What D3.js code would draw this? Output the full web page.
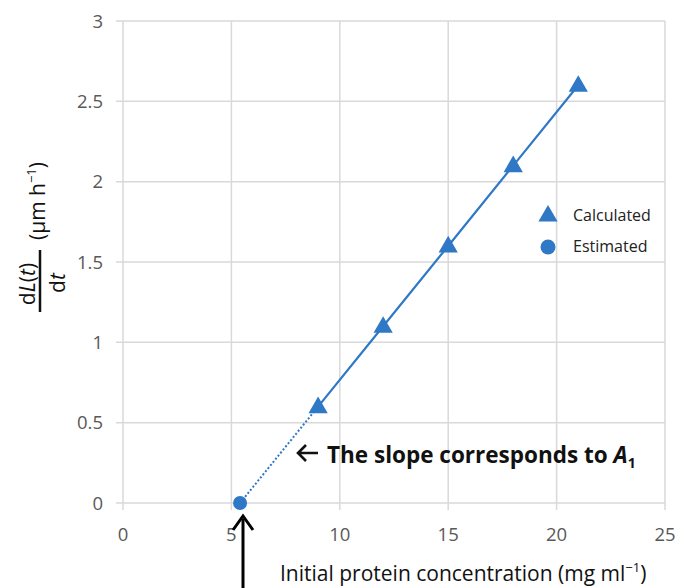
<!DOCTYPE html>
<html><head><meta charset="utf-8">
<script src="https://cdn.jsdelivr.net/npm/d3@7"></script>
<style>body{margin:0;background:#fff;}text{font-family:"Open Sans","Liberation Sans",sans-serif;}</style>
</head><body>
<svg id="c" width="678" height="588"></svg>
<script>
const calcX = [9, 12, 15, 18, 21];
const calcY = [0.6, 1.1, 1.6, 2.1, 2.6];
const estX = [5.4];
const estY = [0];
const xTicks = [0, 5, 10, 15, 20, 25];
const yTicks = [0, 0.5, 1, 1.5, 2, 2.5, 3];
const seriesNames = ["Calculated", "Estimated"];

const svg = d3.select("#c");
const blue = "#2e78c6";
const grid = "#d9d9d9";
const tickCol = "#595959";
const x = d3.scaleLinear().domain([0, 25]).range([123, 665]);
const y = d3.scaleLinear().domain([0, 3]).range([503, 21]);

// gridlines
svg.append("g").selectAll("line").data(xTicks).join("line")
  .attr("x1", d => x(d)).attr("x2", d => x(d)).attr("y1", y(3)).attr("y2", y(0) + 7)
  .attr("stroke", grid).attr("stroke-width", 1.5);
svg.append("g").selectAll("line").data(yTicks).join("line")
  .attr("x1", x(0) - 7).attr("x2", x(25)).attr("y1", d => y(d)).attr("y2", d => y(d))
  .attr("stroke", grid).attr("stroke-width", 1.5);

// tick labels
svg.append("g").selectAll("text").data(yTicks).join("text")
  .attr("x", 103).attr("y", d => y(d) + 6.5).attr("text-anchor", "end")
  .attr("font-size", 18.5).attr("fill", tickCol).text(d => d);
svg.append("g").selectAll("text").data(xTicks).join("text")
  .attr("x", d => x(d)).attr("y", 541).attr("text-anchor", "middle")
  .attr("font-size", 18.5).attr("fill", tickCol).text(d => d);

// lines
const line = d3.line().x(d => x(d[0])).y(d => y(d[1]));
const calcPts = calcX.map((v, i) => [v, calcY[i]]);
svg.append("path").attr("d", line(calcPts)).attr("fill", "none")
  .attr("stroke", blue).attr("stroke-width", 2.2);
svg.append("path").attr("d", line([[estX[0], estY[0]], calcPts[0]])).attr("fill", "none")
  .attr("stroke", blue).attr("stroke-width", 2).attr("stroke-dasharray", "2,2");

// markers
const tri = d3.symbol().type(d3.symbolTriangle).size(160);
svg.append("g").selectAll("path").data(calcPts).join("path")
  .attr("d", tri).attr("transform", d => `translate(${x(d[0])},${y(d[1]) + 1})`).attr("fill", blue);
svg.append("g").selectAll("circle").data(estX).join("circle")
  .attr("cx", d => x(d)).attr("cy", (d, i) => y(estY[i])).attr("r", 7).attr("fill", blue);

// legend
const lg = svg.append("g");
lg.append("path").attr("d", tri).attr("transform", "translate(548,216)").attr("fill", blue);
lg.append("circle").attr("cx", 548).attr("cy", 247).attr("r", 7.5).attr("fill", blue);
lg.selectAll("text").data(seriesNames).join("text")
  .attr("x", 573).attr("y", (d, i) => 221 + i * 31).attr("font-size", 16).attr("fill", "#222").text(d => d);

// annotation
svg.append("path").attr("d", "M318,453 L298,453 M306,445 L298,453 L306,461")
  .attr("fill", "none").attr("stroke", "#111").attr("stroke-width", 2.6);
const ann = svg.append("text").attr("x", 327).attr("y", 463).attr("font-size", 22.5)
  .attr("font-weight", "bold").attr("fill", "#111");
ann.append("tspan").text("The slope corresponds to ");
ann.append("tspan").attr("font-style", "italic").text("A");
ann.append("tspan").attr("font-size", 14).attr("dy", 5).text("1");

// x axis title
const xt = svg.append("text").attr("x", 280).attr("y", 581).attr("font-size", 21).attr("fill", "#111");
xt.append("tspan").text("Initial protein concentration (mg ml");
xt.append("tspan").attr("font-size", 13).attr("dy", -9).text("\u22121");
xt.append("tspan").attr("dy", 9).text(")");

// vertical arrow
svg.append("line").attr("x1", 243).attr("x2", 243).attr("y1", 590).attr("y2", 519)
  .attr("stroke", "#000").attr("stroke-width", 3);
svg.append("path").attr("d", "M233,530 L243,516 L253,530").attr("fill", "none")
  .attr("stroke", "#000").attr("stroke-width", 3);

// y axis title
const yg = svg.append("g");
yg.append("line").attr("x1", 40).attr("x2", 40).attr("y1", 250).attr("y2", 312)
  .attr("stroke", "#111").attr("stroke-width", 2.5);
const num = yg.append("text").attr("transform", "translate(35,284) rotate(-90)")
  .attr("text-anchor", "middle").attr("font-size", 21).attr("fill", "#111");
num.append("tspan").text("d");
num.append("tspan").attr("font-style", "italic").text("L");
num.append("tspan").text("(");
num.append("tspan").attr("font-style", "italic").text("t");
num.append("tspan").text(")");
const den = yg.append("text").attr("transform", "translate(65,283) rotate(-90)")
  .attr("text-anchor", "middle").attr("font-size", 21).attr("fill", "#111");
den.append("tspan").text("d");
den.append("tspan").attr("font-style", "italic").text("t");
const unit = yg.append("text").attr("transform", "translate(45,201) rotate(-90)")
  .attr("text-anchor", "middle").attr("font-size", 21).attr("fill", "#111");
unit.append("tspan").text("(\u03bcm h");
unit.append("tspan").attr("font-size", 13).attr("dy", -9).text("\u22121");
unit.append("tspan").attr("dy", 9).text(")");
</script>
</body></html>
